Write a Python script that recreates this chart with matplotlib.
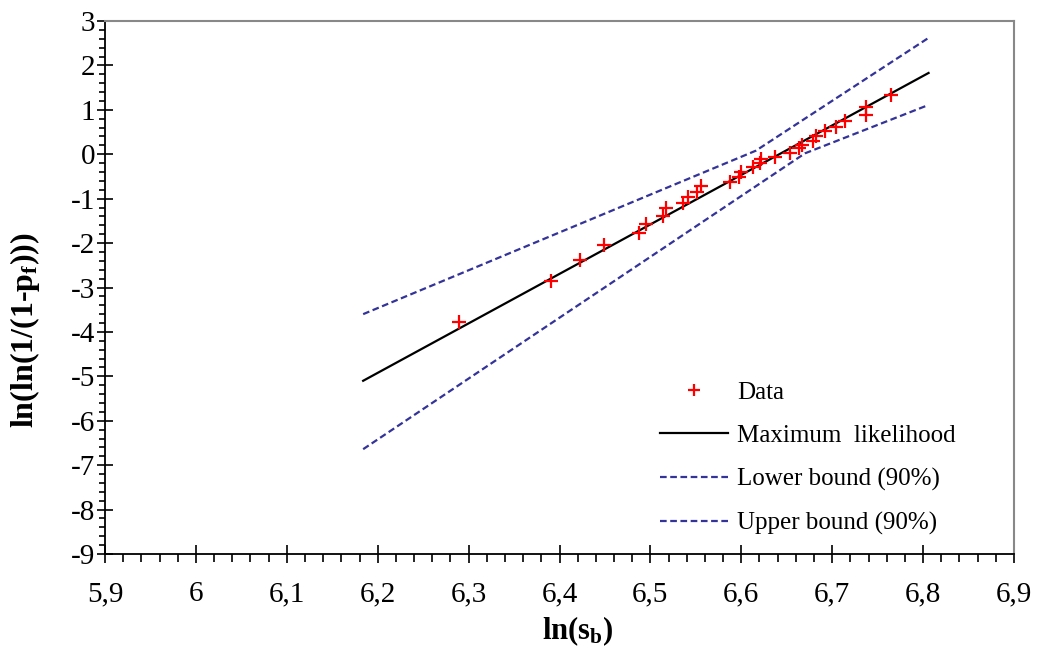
import matplotlib
matplotlib.use("Agg")
import matplotlib.pyplot as plt
from matplotlib.ticker import MultipleLocator, FuncFormatter

plt.rcParams['font.family'] = ['Liberation Serif', 'DejaVu Serif']
plt.rcParams['mathtext.fontset'] = 'custom'
plt.rcParams['mathtext.rm'] = 'Liberation Serif'
plt.rcParams['mathtext.bf'] = 'Liberation Serif:bold'
plt.rcParams['mathtext.it'] = 'Liberation Serif:italic'

# Data (ln(s_b), ln(ln(1/(1-pf))))
data_x = [6.289, 6.391, 6.423, 6.449, 6.488, 6.495, 6.514, 6.517, 6.536, 6.541,
          6.551, 6.556, 6.588, 6.598, 6.600, 6.613, 6.621, 6.622, 6.637, 6.654,
          6.663, 6.667, 6.679, 6.682, 6.692, 6.704, 6.714, 6.737, 6.737, 6.765]
data_y = [-3.77, -2.85, -2.38, -2.04, -1.78, -1.57, -1.39, -1.22, -1.09, -0.955,
          -0.843, -0.715, -0.618, -0.505, -0.393, -0.293, -0.203, -0.113, -0.055, 0.035,
          0.134, 0.208, 0.305, 0.411, 0.524, 0.620, 0.749, 0.884, 1.07, 1.334]

# Maximum likelihood line
ml_x = [6.184, 6.806]
ml_y = [-5.10, 1.83]

# Lower bound (90%)
lo_x = [6.184, 6.670, 6.806]
lo_y = [-6.64, 0.02, 1.11]

# Upper bound (90%)
up_x = [6.184, 6.616, 6.806]
up_y = [-3.60, 0.08, 2.62]

labels = ['Data', 'Maximum  likelihood', 'Lower bound (90%)', 'Upper bound (90%)']

fig = plt.figure(figsize=(10.43, 6.55), dpi=100)
ax = fig.add_axes([105/1043, 1 - 554/655, 909/1043, 533/655])

blue = '#333399'
ax.plot(data_x, data_y, linestyle='none', marker='+', color='red',
        markersize=10.5, markeredgewidth=1.6, label=labels[0], zorder=5)
ax.plot(ml_x, ml_y, color='black', lw=1.6, label=labels[1])
ax.plot(lo_x, lo_y, color=blue, lw=1.6, dashes=(3, 1.6), label=labels[2])
ax.plot(up_x, up_y, color=blue, lw=1.6, dashes=(3, 1.6), label=labels[3])

ax.set_xlim(5.9, 6.9)
ax.set_ylim(-9, 3)
ax.xaxis.set_major_locator(MultipleLocator(0.1))
ax.xaxis.set_minor_locator(MultipleLocator(0.02))
ax.yaxis.set_major_locator(MultipleLocator(1))
ax.yaxis.set_minor_locator(MultipleLocator(0.2))

fmt = FuncFormatter(lambda v, p: ('%g' % round(v, 3)).replace('.', ','))
ax.xaxis.set_major_formatter(fmt)
ax.yaxis.set_major_formatter(FuncFormatter(lambda v, p: '%d' % round(v)))

ax.tick_params(axis='x', which='major', direction='inout', length=13, width=1.2,
               labelsize=21, pad=13)
ax.tick_params(axis='x', which='minor', direction='out', length=6, width=1.2)
ax.tick_params(axis='y', which='major', direction='inout', length=12, width=1.2,
               labelsize=21, pad=1)
ax.tick_params(axis='y', which='minor', direction='out', length=4.5, width=1.2)

for s in ['left', 'bottom']:
    ax.spines[s].set_color('black')
    ax.spines[s].set_linewidth(1.3)
for s in ['top', 'right']:
    ax.spines[s].set_color('#888888')
    ax.spines[s].set_linewidth(1.5)

ax.set_xlabel(r'ln(s$_\mathbf{b}$)', fontsize=22, fontweight='bold')
ax.set_ylabel(r'ln(ln(1/(1-p$_\mathbf{f}$)))', fontsize=23, fontweight='bold')
ax.xaxis.set_label_coords((578 - 105) / 909, (554 - 614) / 533)
ax.yaxis.set_label_coords((42 - 105) / 909, (554 - 330) / 533)

leg = ax.legend(loc='lower left', bbox_to_anchor=((660 - 105) / 909, 0.036),
                frameon=False, borderpad=0, borderaxespad=0,
                fontsize=18, handlelength=2.72, handletextpad=0.36,
                labelspacing=0.83, markerscale=0.85)

fig.savefig('out.png', dpi=100)
